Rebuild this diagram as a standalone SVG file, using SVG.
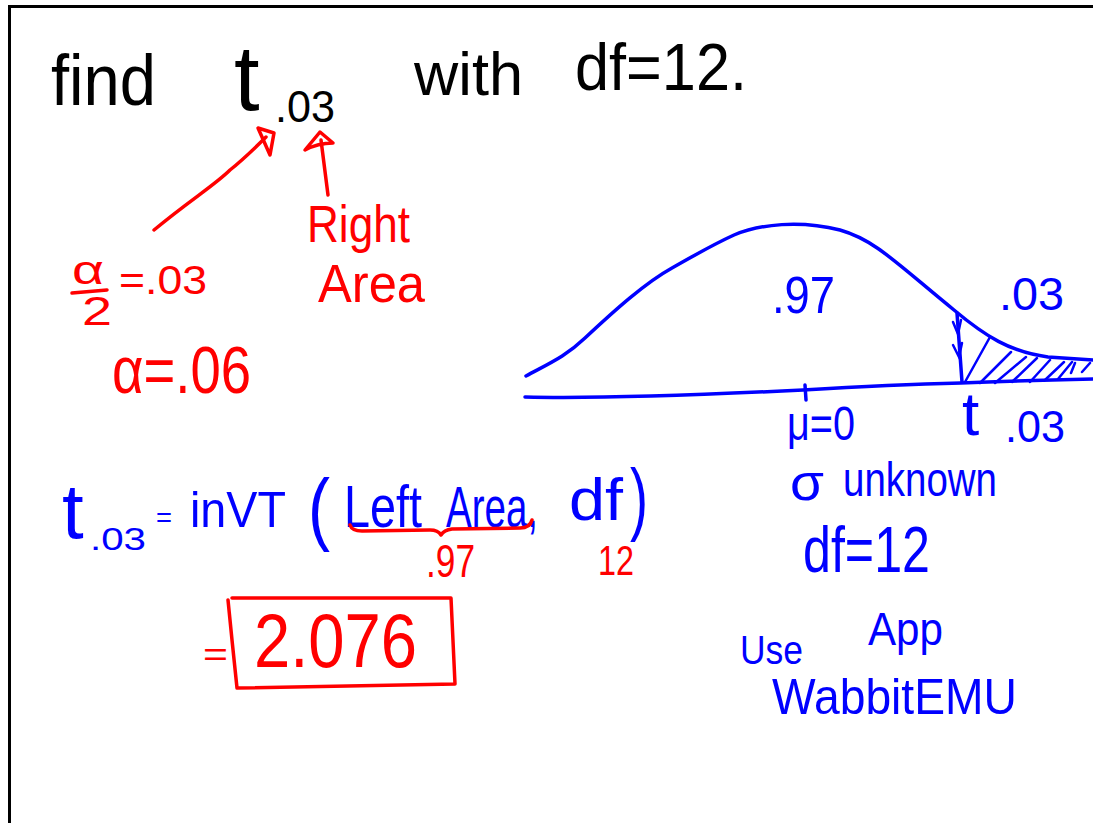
<svg xmlns="http://www.w3.org/2000/svg" width="1093" height="823" viewBox="0 0 1093 823">
<style>
text{font-family:"Liberation Sans","DejaVu Sans",sans-serif;}
.k{fill:#000;}
.r{fill:#ff0000;}
.b{fill:#0000ff;}
.rs{fill:none;stroke:#ff0000;stroke-width:3.5;stroke-linecap:round;stroke-linejoin:round;}
.bs{fill:none;stroke:#0000ff;stroke-width:3.5;stroke-linecap:round;stroke-linejoin:round;}
.hs{fill:none;stroke:#0000ff;stroke-width:2.5;stroke-linecap:round;}
</style>
<rect width="1093" height="823" fill="#fff"/>
<g id="frame">
<line x1="8" y1="6.5" x2="1093" y2="6.5" stroke="#000" stroke-width="3"/>
<line x1="9.5" y1="5" x2="9.5" y2="823" stroke="#000" stroke-width="3"/>
</g>
<g id="title">
<text class="k" x="51" y="105" font-size="72" textLength="105" lengthAdjust="spacingAndGlyphs">find</text>
<text class="k" x="234" y="110" font-size="92">t</text>
<text class="k" x="275" y="122" font-size="44" textLength="60" lengthAdjust="spacingAndGlyphs">.03</text>
<text class="k" x="414" y="95" font-size="62" textLength="109" lengthAdjust="spacingAndGlyphs">with</text>
<text class="k" x="575" y="90" font-size="66" textLength="172" lengthAdjust="spacingAndGlyphs">df=12.</text>
</g>
<g id="connectors">
<path class="rs" d="M154,230 C190,200 215,185 230,170 C245,158 255,148 266,137"/>
<path class="rs" d="M258,128 L274,133 L270,155 Z"/>
<path class="rs" d="M328,195 L321,140"/>
<path class="rs" d="M305,150 Q318,143 333,143 L320,132 Z"/>
</g>
<g id="alpha-notes">
<text class="r" x="307" y="242" font-size="52" textLength="103" lengthAdjust="spacingAndGlyphs">Right</text>
<text class="r" x="318" y="302" font-size="54" textLength="107" lengthAdjust="spacingAndGlyphs">Area</text>
<text class="r" x="72" y="284" font-size="40" textLength="32" lengthAdjust="spacingAndGlyphs">α</text>
<path class="rs" d="M72,293 L107,290"/>
<text class="r" x="82" y="325" font-size="40" textLength="30" lengthAdjust="spacingAndGlyphs">2</text>
<text class="r" x="119" y="294" font-size="40" textLength="88" lengthAdjust="spacingAndGlyphs">=.03</text>
<text class="r" x="112" y="393" font-size="66" textLength="139" lengthAdjust="spacingAndGlyphs">α=.06</text>
</g>
<g id="formula">
<text class="b" x="62" y="538" font-size="78">t</text>
<text class="b" x="90" y="550" font-size="32" textLength="56" lengthAdjust="spacingAndGlyphs">.03</text>
<text class="b" x="156" y="527" font-size="28" textLength="16" lengthAdjust="spacingAndGlyphs">=</text>
<text class="b" x="190" y="527" font-size="50" textLength="96" lengthAdjust="spacingAndGlyphs">inVT</text>
<text class="b" x="308" y="535" font-size="80" textLength="22" lengthAdjust="spacingAndGlyphs">(</text>
<text class="b" x="344" y="527" font-size="60" textLength="78" lengthAdjust="spacingAndGlyphs">Left</text>
<text class="b" transform="translate(446,527) scale(0.664,1)" font-size="58">Area,</text>
<text class="b" x="569" y="520" font-size="60" textLength="54" lengthAdjust="spacingAndGlyphs">df</text>
<text class="b" x="630" y="525" font-size="80" textLength="18" lengthAdjust="spacingAndGlyphs">)</text>
<path class="rs" d="M350,525 Q352,531 362,531 L430,530 Q438,530 441,535 Q444,530 452,529 L520,528 Q530,528 532,520"/>
<text class="r" x="426" y="577" font-size="46" textLength="49" lengthAdjust="spacingAndGlyphs">.97</text>
<text class="r" x="598" y="575" font-size="42" textLength="36" lengthAdjust="spacingAndGlyphs">12</text>
</g>
<g id="answer">
<text class="r" x="203" y="666" font-size="34" textLength="25" lengthAdjust="spacingAndGlyphs">=</text>
<path class="rs" d="M228,600 L232,640 L237,688 L455,684 L451,598 L232,598" stroke-width="4"/>
<text class="r" x="254" y="667" font-size="76" textLength="163" lengthAdjust="spacingAndGlyphs">2.076</text>
</g>
<g id="t-curve">
<path class="bs" d="M526,376 C552,362 566,356 585,338 C615,310 645,283 672,268 C695,255 712,245 734,235 C760,224 800,220 840,230 C875,240 895,262 954,310 C985,336 1010,352 1048,357 L1093,360"/>
<path class="bs" d="M525,397 C600,399 700,395 803,390 C870,386 920,384 961,383 C1010,381 1050,380 1093,379"/>
<path class="bs" d="M805,385 L806,400"/>
<path class="bs" d="M957,313 L962,382"/>
<path class="hs" d="M953,322 L958,334 L961,320 M953,345 L959,357 L962,343"/>
<path class="hs" d="M965,382 L990,337 M980,383 L1011,352 M995,383 L1026,357 M1012,382 L1037,358 M1030,382 L1050,360 M1045,380 L1064,362 M1058,379 L1072,362 M1071,373 L1075,363 M1082,372 L1090,363"/>
<text class="b" x="772" y="313" font-size="52" textLength="63" lengthAdjust="spacingAndGlyphs">.97</text>
<text class="b" x="999" y="310" font-size="46" textLength="65" lengthAdjust="spacingAndGlyphs">.03</text>
<text class="b" x="787" y="440" font-size="48" textLength="68" lengthAdjust="spacingAndGlyphs">μ=0</text>
<text class="b" x="962" y="435" font-size="62">t</text>
<text class="b" x="1005" y="442" font-size="44" textLength="60" lengthAdjust="spacingAndGlyphs">.03</text>
</g>
<g id="notes">
<text class="b" x="790" y="500" font-size="52" textLength="34" lengthAdjust="spacingAndGlyphs">σ</text>
<text class="b" x="843" y="496" font-size="48" textLength="154" lengthAdjust="spacingAndGlyphs">unknown</text>
<text class="b" x="803" y="572" font-size="64" textLength="127" lengthAdjust="spacingAndGlyphs">df=12</text>
<text class="b" x="740" y="664" font-size="40" textLength="63" lengthAdjust="spacingAndGlyphs">Use</text>
<text class="b" x="868" y="645" font-size="46" textLength="75" lengthAdjust="spacingAndGlyphs">App</text>
<text class="b" x="772" y="714" font-size="50" textLength="245" lengthAdjust="spacingAndGlyphs">WabbitEMU</text>
</g>
</svg>
